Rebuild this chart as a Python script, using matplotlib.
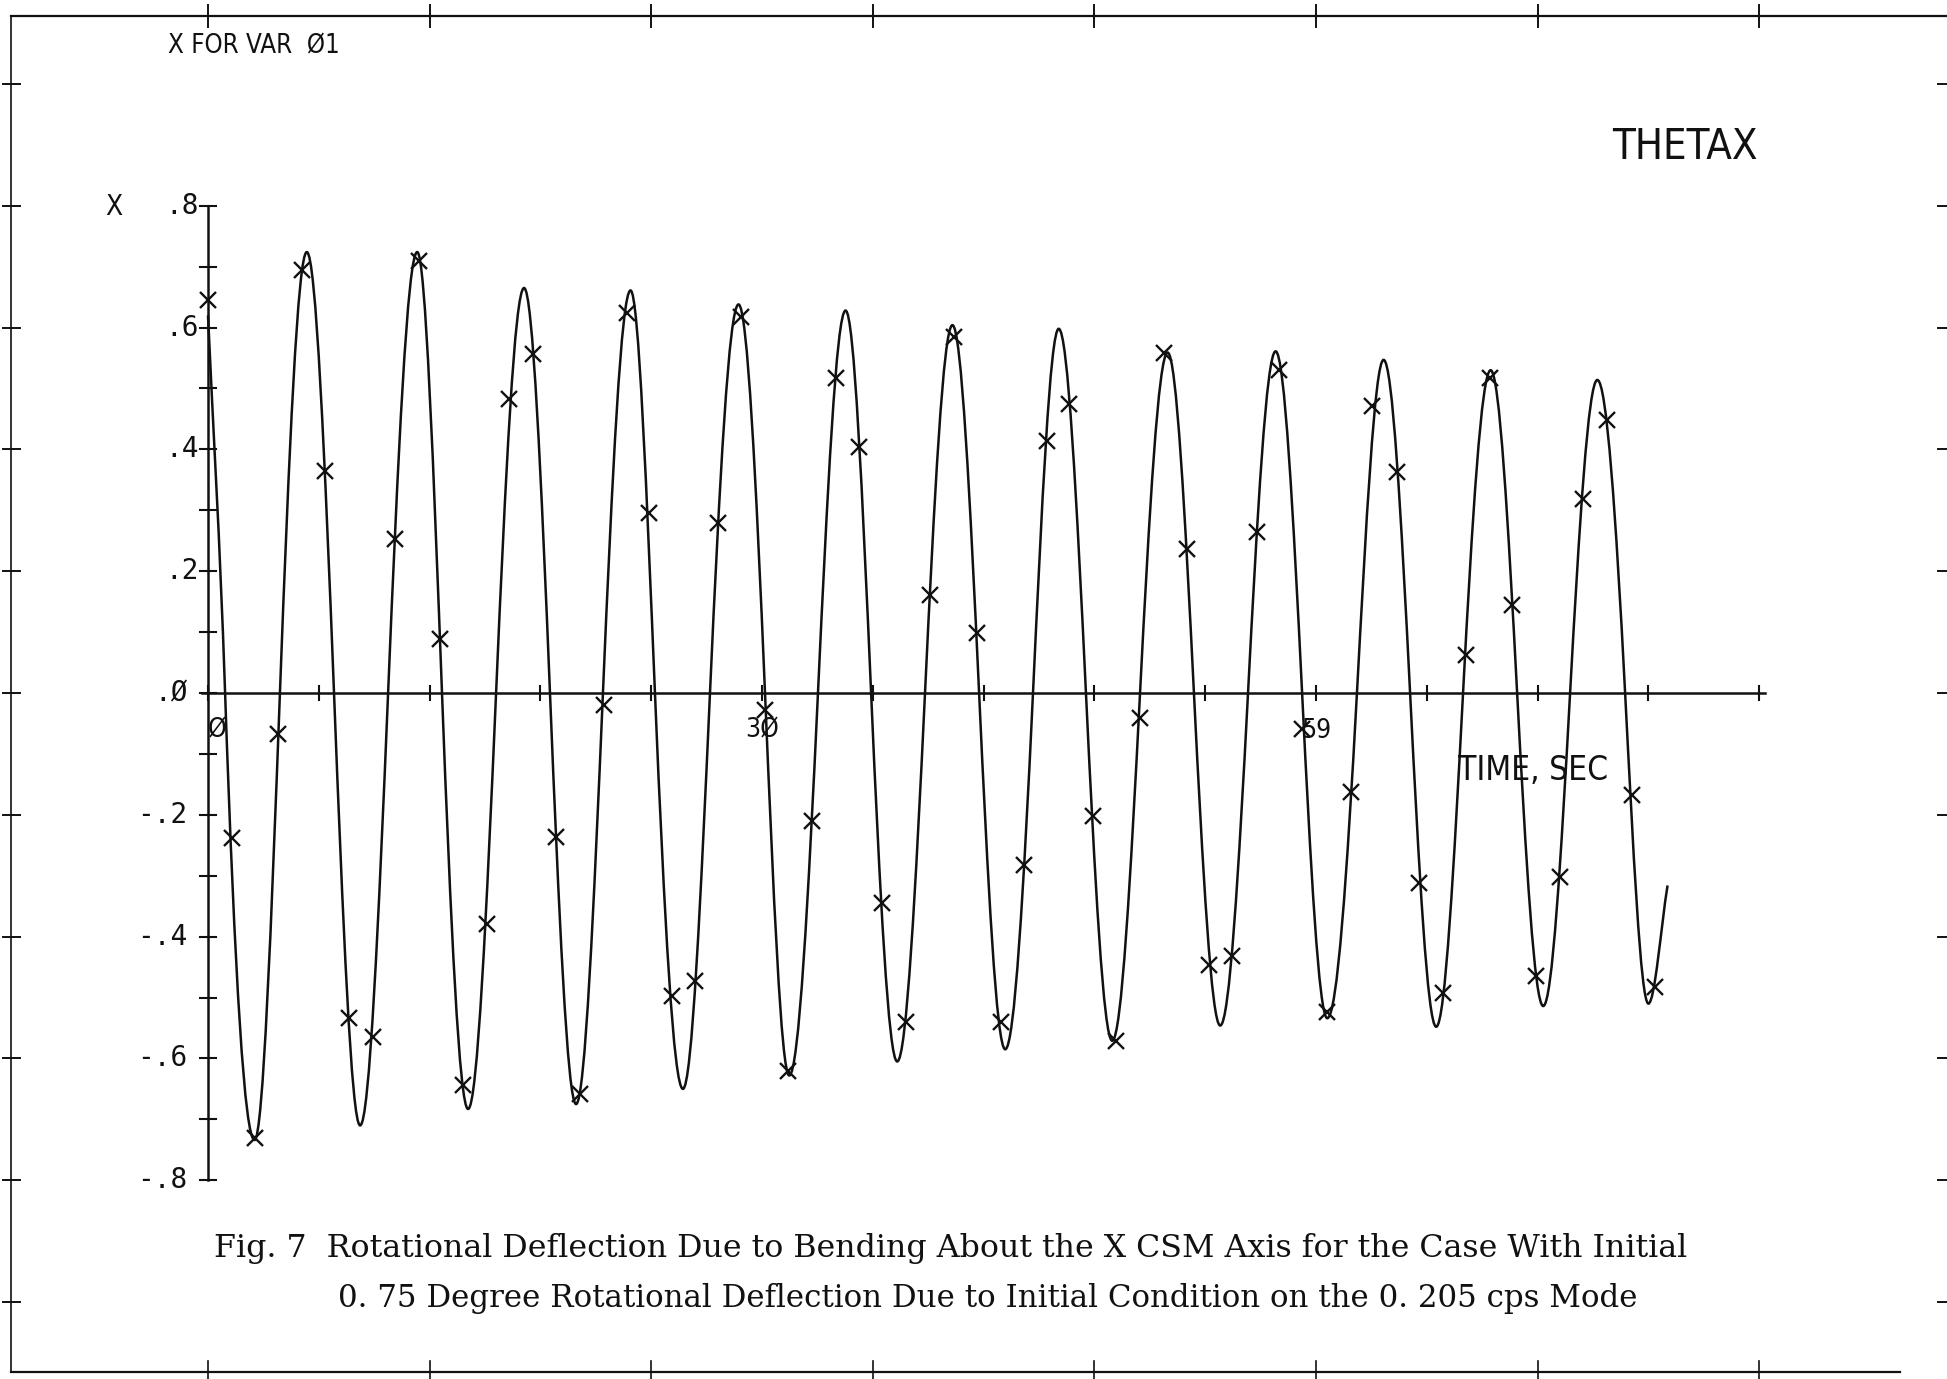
import numpy as np
import matplotlib
matplotlib.use('Agg')
import matplotlib.pyplot as plt
from matplotlib.path import Path
from matplotlib.patches import PathPatch

# curve key points: start, zero crossings, peaks/troughs, end
curve_t = [0.0, 0.91, 2.48, 3.83, 5.26, 6.71, 8.10, 9.59, 11.14, 12.46,
           13.85, 15.34, 16.83, 18.21, 19.60, 21.03, 22.50, 23.80, 25.29, 26.73,
           28.25, 29.66, 30.95, 32.48, 33.95, 35.31, 36.70, 38.18, 39.64, 41.06,
           42.45, 43.93, 45.30, 46.75, 48.15, 49.63, 51.10, 52.50, 53.90, 55.38,
           56.85, 58.26, 59.60, 61.18, 62.60, 64.01, 65.40, 66.83, 68.30, 69.71,
           71.10, 72.53, 73.98, 75.46, 76.70, 77.72]
curve_v = [0.62, 0.0, -0.734, 0.0, 0.724, 0.0, -0.710, 0.0, 0.724, 0.0,
           -0.683, 0.0, 0.665, 0.0, -0.675, 0.0, 0.661, 0.0, -0.650, 0.0,
           0.638, 0.0, -0.628, 0.0, 0.628, 0.0, -0.605, 0.0, 0.604, 0.0,
           -0.585, 0.0, 0.598, 0.0, -0.571, 0.0, 0.559, 0.0, -0.546, 0.0,
           0.561, 0.0, -0.534, 0.0, 0.547, 0.0, -0.548, 0.0, 0.530, 0.0,
           -0.514, 0.0, 0.514, 0.0, -0.510, -0.316]

# sampled points (x markers)
mark_t = [0.00, 1.29, 2.48, 3.73, 4.99, 6.25, 7.50, 8.76, 9.95, 11.21,
          12.33, 13.59, 14.84, 16.03, 17.29, 18.55, 19.80, 21.06, 22.31, 23.50,
          24.69, 25.95, 27.14, 28.40, 29.65, 30.91, 32.17, 33.42, 34.68, 35.87,
          37.19, 38.45, 39.70, 40.96, 42.22, 43.47, 44.66, 45.85, 47.11, 48.36,
          49.62, 50.88, 52.13, 53.32, 54.51, 55.84, 57.03, 58.28, 59.61, 60.86,
          61.99, 63.31, 64.50, 65.76, 67.01, 68.27, 69.46, 70.71, 71.97, 73.22,
          74.48, 75.80, 77.06]
mark_v = [0.645, -0.238, -0.730, -0.067, 0.695, 0.365, -0.534, -0.565, 0.253, 0.710,
          0.088, -0.644, -0.379, 0.483, 0.557, -0.236, -0.658, -0.020, 0.624, 0.296,
          -0.497, -0.473, 0.279, 0.618, -0.028, -0.620, -0.210, 0.518, 0.404, -0.344,
          -0.540, 0.161, 0.585, 0.098, -0.540, -0.283, 0.414, 0.475, -0.202, -0.571,
          -0.041, 0.559, 0.237, -0.446, -0.432, 0.265, 0.530, -0.059, -0.524, -0.163,
          0.471, 0.363, -0.312, -0.493, 0.063, 0.518, 0.145, -0.465, -0.302, 0.318,
          0.449, -0.167, -0.483]

x_step = 5.9
x_label_pos = [0.0, 29.5, 59.0]
x_labels = ['\u00d8', '3\u00d8', '59']
y_label_pos = [0.8, 0.6, 0.4, 0.2, 0.0, -0.2, -0.4, -0.6, -0.8]
y_labels = ['.8', '.6', '.4', '.2', '.\u00d8', '-.2', '-.4', '-.6', '-.8']

caption1 = 'Fig. 7  Rotational Deflection Due to Bending About the X CSM Axis for the Case With Initial'
caption2 = '0. 75 Degree Rotational Deflection Due to Initial Condition on the 0. 205 cps Mode'

PLOT_FONT = dict(family='DejaVu Sans', stretch='condensed')
MONO_FONT = dict(family='DejaVu Sans Mono')
INK = '#111111'


def curve_path(ts, vs):
    # smooth cubic segments: flat at peaks, sine-like slope at crossings
    n = len(ts)
    slopes = []
    for i in range(n):
        if i == 0:
            slopes.append((vs[1] - vs[0]) / (ts[1] - ts[0]))
        elif i == n - 1:
            slopes.append((vs[i] - vs[i - 1]) / (ts[i] - ts[i - 1]))
        elif vs[i] == 0.0:
            a = abs(vs[i - 1]) / (ts[i] - ts[i - 1])
            b = abs(vs[i + 1]) / (ts[i + 1] - ts[i])
            sgn = np.sign(vs[i + 1] - vs[i - 1])
            slopes.append(sgn * np.pi / 2 * (a + b) / 2)
        else:
            slopes.append(0.0)
    verts = [(ts[0], vs[0])]
    codes = [Path.MOVETO]
    for i in range(n - 1):
        dt = ts[i + 1] - ts[i]
        verts.append((ts[i] + dt / 3, vs[i] + slopes[i] * dt / 3))
        verts.append((ts[i + 1] - dt / 3, vs[i + 1] - slopes[i + 1] * dt / 3))
        verts.append((ts[i + 1], vs[i + 1]))
        codes += [Path.CURVE4] * 3
    return Path(verts, codes)


fig = plt.figure(figsize=(19.47, 13.79), dpi=100)
ax = fig.add_axes([0, 0, 1, 1])
ax.set_xlim(-11.076, 92.60)
ax.set_ylim(-1.1264, 1.1379)
ax.axis('off')

# outer frame with ticks
ax.plot([-10.49, 92.6], [1.1117, 1.1117], color=INK, lw=1.6)
ax.plot([-10.49, -10.49], [1.1117, -1.115], color=INK, lw=1.2)
ax.plot([-10.49, 90.1], [-1.115, -1.115], color=INK, lw=1.6)
for k in range(8):
    tx = k * 2 * x_step
    ax.plot([tx, tx], [1.1297, 1.0936], color=INK, lw=1.4)
    ax.plot([tx, tx], [-1.097, -1.126], color=INK, lw=1.2)
for k in range(-5, 6):
    vy = k * 0.2
    ax.plot([-10.92, -10.01], [vy, vy], color=INK, lw=1.4)
    ax.plot([92.12, 92.6], [vy, vy], color=INK, lw=1.4)

# axes
ax.plot([-0.32, 14 * x_step + 0.3], [0, 0], color=INK, lw=1.8)
ax.plot([0, 0], [-0.8, 0.8], color=INK, lw=1.8)
for k in range(15):
    ax.plot([k * x_step, k * x_step], [-0.0115, 0.0115], color=INK, lw=1.5)
for k in range(-8, 9):
    ax.plot([-0.42, 0.42], [k * 0.1, k * 0.1], color=INK, lw=1.5)

for v, lab in zip(y_label_pos, y_labels):
    right = -0.50 if v > 0 else -1.09
    ax.text(right, v, lab, ha='right', va='center', fontsize=20, color=INK, **MONO_FONT)
ax.text(0.0, -0.062, x_labels[0], ha='left', va='center', fontsize=19, color=INK, **PLOT_FONT)
for t, lab in zip(x_label_pos[1:], x_labels[1:]):
    ax.text(t, -0.062, lab, ha='center', va='center', fontsize=19, color=INK, **PLOT_FONT)

ax.text(-5.0, 0.798, 'X', ha='center', va='center', fontsize=20, color=INK, **PLOT_FONT)
ax.text(-2.13, 1.061, 'X FOR VAR  \u00d81', ha='left', va='center', fontsize=18.5, color=INK, **PLOT_FONT)
ax.text(74.76, 0.897, 'THETAX', ha='left', va='center', fontsize=30, color=INK, **PLOT_FONT)
ax.text(66.56, -0.128, 'TIME, SEC', ha='left', va='center', fontsize=24, color=INK, **PLOT_FONT)

# data
ax.add_patch(PathPatch(curve_path(curve_t, curve_v), facecolor='none', edgecolor=INK, lw=1.8))
ax.plot(mark_t, mark_v, linestyle='none', marker='x', markersize=12, markeredgewidth=1.7, color=INK)

# caption
ax.text(0.32, -0.912, caption1, ha='left', va='center', fontsize=22.8, family='DejaVu Serif', color=INK)
ax.text(6.92, -0.994, caption2, ha='left', va='center', fontsize=22.2, family='DejaVu Serif', color=INK)

fig.savefig('out.png', dpi=100)
plt.close(fig)
